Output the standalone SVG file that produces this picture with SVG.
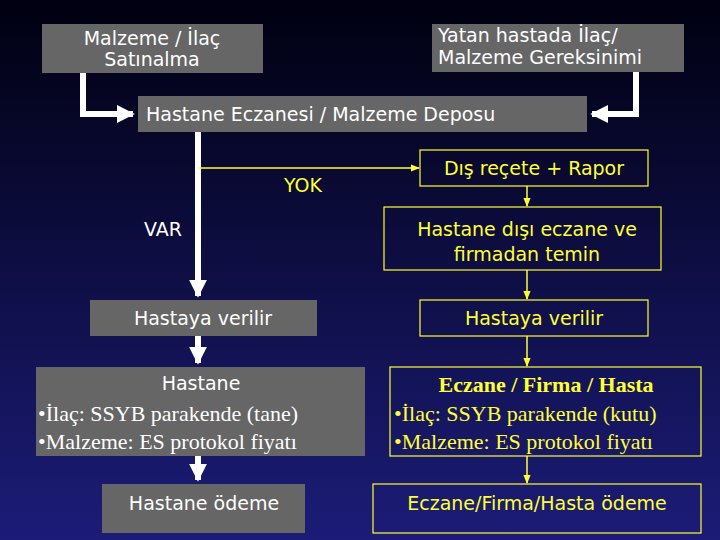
<svg xmlns="http://www.w3.org/2000/svg" width="720" height="540" viewBox="0 0 720 540">
<defs>
<linearGradient id="bg" x1="0" y1="0" x2="0" y2="1"><stop offset="0" stop-color="#000010"/><stop offset="1" stop-color="#1c1c78"/></linearGradient>
<marker id="wa" viewBox="0 0 10 10" refX="9" refY="5" markerWidth="3" markerHeight="3" orient="auto" markerUnits="strokeWidth"><path d="M0,0L10,5L0,10z" fill="#fff"/></marker>
<marker id="ya" viewBox="0 0 10 10" refX="9" refY="5" markerWidth="6" markerHeight="6" orient="auto" markerUnits="strokeWidth"><path d="M0,1L10,5L0,9z" fill="#ff3"/></marker>
<style>
.g{fill:#666}
.y{fill:none;stroke:#ff3;stroke-width:1.2}
.t{font-family:"DejaVu Sans",sans-serif;font-size:19px;text-anchor:middle;fill:#fff}
.ty{font-family:"DejaVu Sans",sans-serif;font-size:19px;text-anchor:middle;fill:#ff3}
.s{font-family:"Liberation Serif",serif;font-size:22px;fill:#fff}
.sy{font-family:"Liberation Serif",serif;font-size:22px;fill:#ff3}
.wl{stroke:#fff;stroke-width:6;fill:none}
.yl{stroke:#ff3;stroke-width:1.5;fill:none}
</style>
</defs>
<rect width="720" height="540" fill="url(#bg)"/>
<g id="connectors">
<path class="wl" d="M83,73V114H133" marker-end="url(#wa)"/>
<path class="wl" d="M636,72V114H592" marker-end="url(#wa)"/>
<path class="wl" d="M198,132V296" marker-end="url(#wa)"/>
<path class="wl" d="M198,336V363" marker-end="url(#wa)"/>
<path class="wl" d="M198,456V480" marker-end="url(#wa)"/>
<path class="yl" d="M198,168H419" marker-end="url(#ya)"/>
<path class="yl" d="M527,186V206" marker-end="url(#ya)"/>
<path class="yl" d="M527,270V299" marker-end="url(#ya)"/>
<path class="yl" d="M527,336V366" marker-end="url(#ya)"/>
<path class="yl" d="M527,456V483" marker-end="url(#ya)"/>
</g>
<g id="n1"><rect class="g" x="42" y="24" width="221" height="49"/><text class="t" x="152" y="45">Malzeme / İlaç</text><text class="t" x="152" y="66">Satınalma</text></g>
<g id="n2"><rect class="g" x="432" y="24" width="252" height="48"/><text class="t" x="438" y="42" style="text-anchor:start">Yatan hastada İlaç/</text><text class="t" x="438" y="64" style="text-anchor:start">Malzeme Gereksinimi</text></g>
<g id="n3"><rect class="g" x="138" y="96" width="449" height="36"/><text class="t" x="146" y="121" style="text-anchor:start">Hastane Eczanesi / Malzeme Deposu</text></g>
<g id="lbl"><text class="ty" x="303" y="192">YOK</text><text class="t" x="163" y="236">VAR</text></g>
<g id="n4"><rect class="y" x="420" y="150" width="228" height="36"/><text class="ty" x="534" y="175">Dış reçete + Rapor</text></g>
<g id="n5"><rect class="y" x="384" y="207" width="277" height="63"/><text class="ty" x="527" y="236">Hastane dışı eczane ve</text><text class="ty" x="527" y="261">firmadan temin</text></g>
<g id="n6"><rect class="g" x="90" y="300" width="227" height="36"/><text class="t" x="203" y="325">Hastaya verilir</text></g>
<g id="n7"><rect class="y" x="420" y="300" width="228" height="36"/><text class="ty" x="534" y="325">Hastaya verilir</text></g>
<g id="n8"><rect class="g" x="36" y="367" width="329" height="89"/><text class="t" x="201" y="390">Hastane</text><text class="s" x="38" y="421">•İlaç: SSYB parakende (tane)</text><text class="s" x="38" y="449">•Malzeme: ES protokol fiyatı</text></g>
<g id="n9"><rect class="y" x="390" y="367" width="311" height="89"/><text class="sy" x="546" y="392" text-anchor="middle" font-weight="bold">Eczane / Firma / Hasta</text><text class="sy" x="394" y="421">•İlaç: SSYB parakende (kutu)</text><text class="sy" x="394" y="449">•Malzeme: ES protokol fiyatı</text></g>
<g id="n10"><rect class="g" x="102" y="484" width="203" height="49"/><text class="t" x="204" y="510">Hastane ödeme</text></g>
<g id="n11"><rect class="y" x="373" y="484" width="328" height="49"/><text class="ty" x="537" y="510">Eczane/Firma/Hasta ödeme</text></g>
</svg>
